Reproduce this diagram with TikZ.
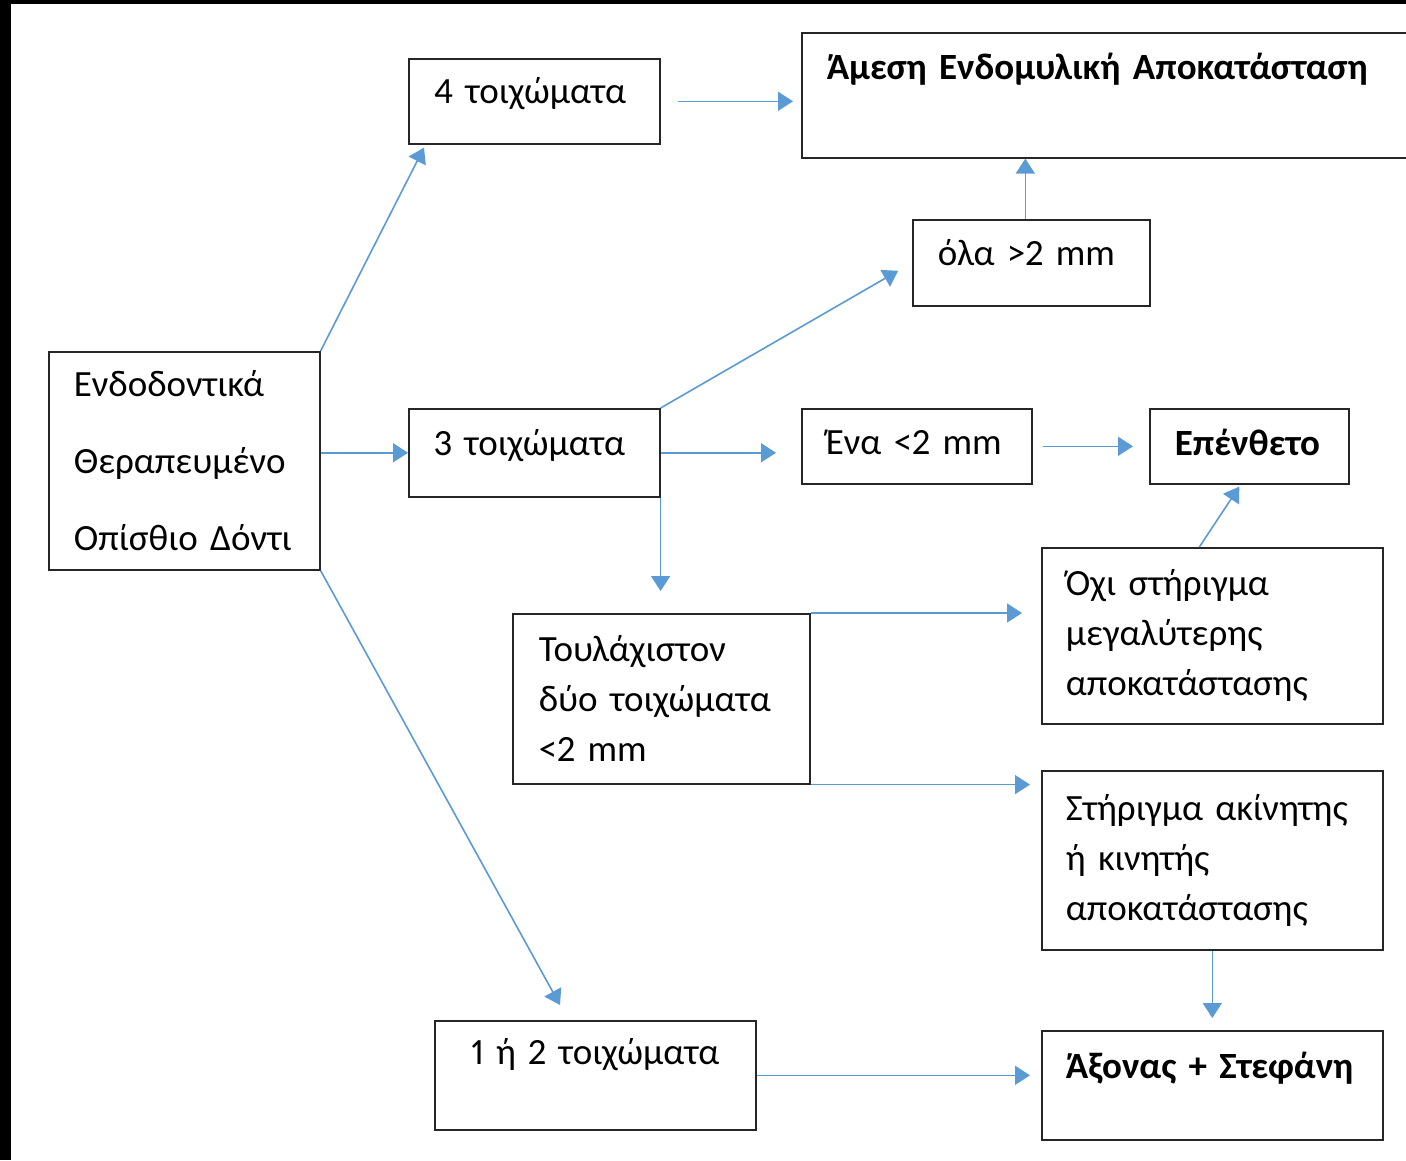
\documentclass[tikz,border=0pt]{standalone}
\usepackage{fontspec}
\setmainfont{Carlito}[WordSpace=0.7,Numbers=Proportional]
\usepackage{tikz}
\usetikzlibrary{arrows.meta,positioning}

\begin{document}
\begin{tikzpicture}[x=1pt,y=-1pt,
	box/.style={draw=black!85,line width=1.6pt,anchor=north west,align=left,inner xsep=25pt,inner ysep=0pt,font=\fontsize{37}{50}\selectfont},
	link/.style={draw={rgb,255:red,91;green,155;blue,213},line width=1.6pt,-{Triangle[length=15pt,width=19pt]}}]
	\clip (0,0) rectangle (1406,1160);
	\fill[white] (0,0) rectangle (1406,1160);
	\fill[black] (0,0) rectangle (11,1160);
	\fill[black] (0,0) rectangle (1406,4);
	\node[box,minimum width=271pt,minimum height=218pt,text width=221pt,font=\fontsize{37}{77}\selectfont] (treated_tooth) at (48,351) {Ενδοδοντικά\\Θεραπευμένο\\Οπίσθιο~Δόντι};
	\node[box,minimum width=251pt,minimum height=85pt,text width=201pt,text depth=22pt] (four_walls) at (408,58) {4 τοιχώματα};
	\node[box,minimum width=620pt,minimum height=125pt,text width=570pt,text depth=58pt,font=\fontsize{37}{50}\selectfont\bfseries] (direct_rest) at (801,32) {Άμεση Ενδομυλική Αποκατάσταση};
	\node[box,minimum width=237pt,minimum height=86pt,text width=187pt,text depth=20pt] (all_thick) at (912,219) {όλα >2 mm};
	\node[box,minimum width=251pt,minimum height=88pt,text width=201pt,text depth=20pt] (three_walls) at (408,408) {3 τοιχώματα};
	\node[box,minimum width=230pt,minimum height=75pt,inner xsep=24pt,text width=182pt,text depth=8pt] (one_thin) at (801,408) {Ένα <2 mm};
	\node[box,minimum width=199pt,minimum height=75pt,text width=149pt,text depth=8pt,font=\fontsize{37}{50}\selectfont\bfseries] (onlay) at (1149,408) {Επένθετο};
	\node[box,minimum width=341pt,minimum height=176pt,text width=293pt,inner xsep=24pt] (no_support) at (1041,547) {Όχι στήριγμα\\μεγαλύτερης\\αποκατάστασης};
	\node[box,minimum width=297pt,minimum height=170pt,text width=245pt,inner xsep=26pt] (two_thin) at (512,613) {Τουλάχιστον\\δύο τοιχώματα\\<2 mm};
	\node[box,minimum width=341pt,minimum height=179pt,text width=293pt,inner xsep=24pt] (abutment) at (1041,770) {Στήριγμα ακίνητης\\ή κινητής\\αποκατάστασης};
	\node[box,minimum width=321pt,minimum height=109pt,text width=249pt,inner xsep=36pt,text depth=48pt] (one_two_walls) at (434,1020) {1~ή~2~τοιχώματα};
	\node[box,minimum width=341pt,minimum height=109pt,text width=293pt,inner xsep=24pt,text depth=40pt,font=\fontsize{37}{50}\selectfont\bfseries] (post_crown) at (1041,1030) {Άξονας~+~Στεφάνη};
	\draw[link] (treated_tooth.north east) -- ([xshift=16pt,yshift=-3pt]four_walls.south west);
	\draw[link] (three_walls.west -| treated_tooth.east) -- (three_walls.west);
	\draw[link] (treated_tooth.south east) -- ([xshift=126pt,yshift=15pt]one_two_walls.north west);
	\draw[link,shorten <=17pt,shorten >=8pt] (four_walls.east) -- (four_walls.east -| direct_rest.west);
	\draw[link] ([xshift=-6pt]all_thick.north) -- ([xshift=-6pt]all_thick.north |- direct_rest.south);
	\draw[link,shorten >=16pt] (three_walls.north east) -- (all_thick.west);
	\draw[link,shorten >=25pt] (three_walls.east) -- (three_walls.east -| one_thin.west);
	\draw[link,shorten >=22pt] (three_walls.south east) -- (three_walls.south east |- two_thin.north);
	\draw[link,shorten <=10pt,shorten >=16pt] (one_thin.east) -- (one_thin.east -| onlay.west);
	\draw[link] ([xshift=-13pt]no_support.north) -- ([xshift=-10pt,yshift=-2pt]onlay.south);
	\draw[link,shorten >=19pt] (two_thin.north east) -- (two_thin.north east -| no_support.west);
	\draw[link,shorten >=11pt] (two_thin.south east) -- (two_thin.south east -| abutment.west);
	\draw[link,shorten >=12pt] (abutment.south) -- (abutment.south |- post_crown.north);
	\draw[link,shorten >=11pt] (one_two_walls.east) -- (one_two_walls.east -| post_crown.west);
\end{tikzpicture}
\end{document}
